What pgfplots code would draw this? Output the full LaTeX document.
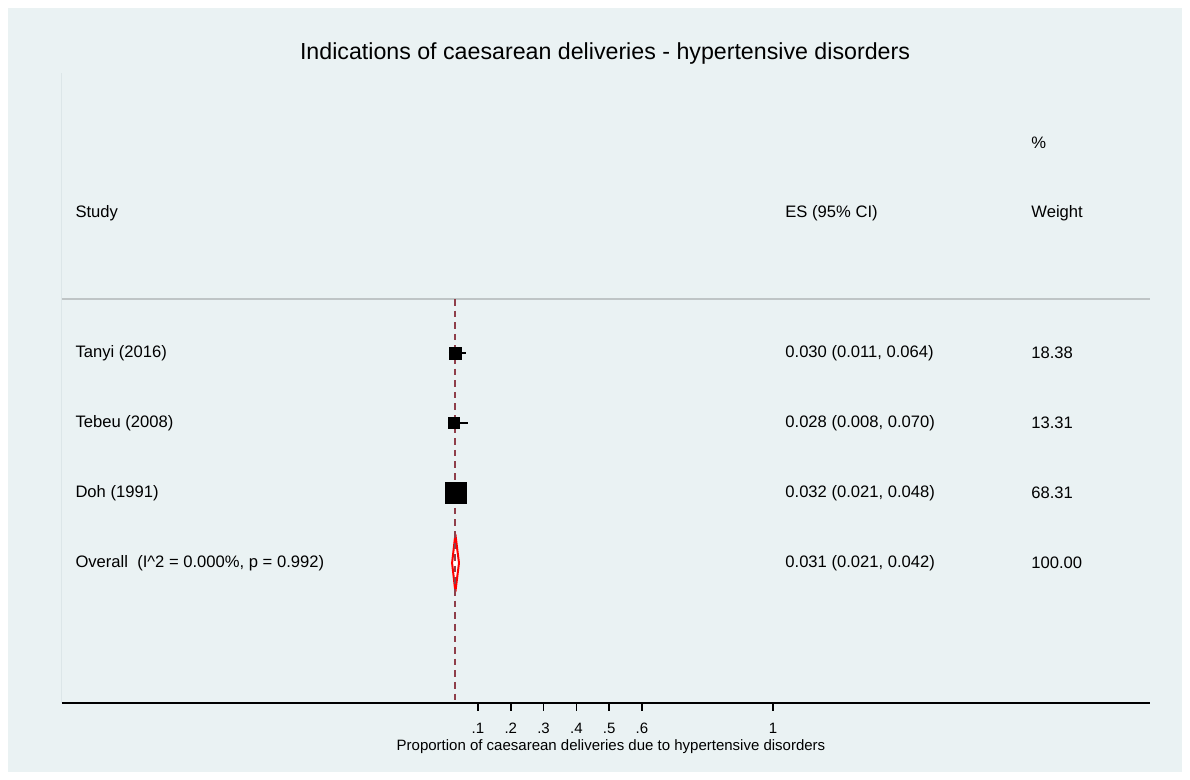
\documentclass[border=0pt]{standalone}
\usepackage{fontspec}
\setmainfont{Liberation Sans}
\usepackage{pgfplots}
\pgfplotsset{compat=1.18}
\definecolor{bgc}{HTML}{EAF2F3}
\definecolor{nullc}{HTML}{8F3F4A}
\definecolor{sepc}{HTML}{BFC5C6}
\definecolor{edgec}{HTML}{DCE6E8}
\newcommand{\rowfont}{\fontsize{8.3}{10}\selectfont}

\begin{document}
\begin{tikzpicture}
\fill[white] (-31pt,-38.5pt) rectangle (564pt,351.5pt);
\fill[bgc] (-27pt,-34.5pt) rectangle (560pt,347.5pt);
\begin{axis}[
  scale only axis, width=544pt, height=315pt,
  xmin=-1.169, xmax=2.150, ymin=-1, ymax=8,
  axis y line=none, axis x line*=bottom,
  x axis line style={-, line width=0.75pt, black},
  xtick={0.1,0.2,0.3,0.4,0.5,0.6,1},
  xticklabels={.1,.2,.3,.4,.5,.6,1},
  xtick align=outside, major tick length=4pt,
  xtick style={line width=0.75pt, black},
  xticklabel style={font=\fontsize{7.5}{9}\selectfont, anchor=base, inner sep=0pt, yshift=-11.5pt},
  /pgf/number format/assume math mode=true,
  clip=false,
]
% faint plot-region edge and separator
\draw[edgec, line width=0.5pt] (axis cs:-1.169,-1) -- (axis cs:-1.169,8);
\draw[sepc, line width=0.6pt] (axis cs:-1.169,4.77) -- (axis cs:2.150,4.77);

% pooled diamond
\addplot[red, fill=white, line width=1pt, line join=round] coordinates {(0.021,1) (0.031,1.41) (0.042,1) (0.031,0.59) (0.021,1)};

% null line at the pooled estimate
\addplot[nullc, dash pattern=on 3.3pt off 2.5pt, line width=0.9pt] coordinates {(0.031,4.77) (0.031,-0.97)};

% confidence intervals
\addplot[black, line width=1pt] coordinates {(0.011,4) (0.064,4)};
\addplot[black, line width=1pt] coordinates {(0.008,3) (0.070,3)};
\addplot[black, line width=1pt] coordinates {(0.021,2) (0.048,2)};

% study estimates, box size by weight
\addplot[only marks, mark=square*, mark size=3pt, black] coordinates {(0.030,4)};
\addplot[only marks, mark=square*, mark size=2.75pt, black] coordinates {(0.028,3)};
\addplot[only marks, mark=square*, mark size=5.25pt, black] coordinates {(0.032,2)};

% header
\node[anchor=west, inner sep=0pt, font=\rowfont] at (axis cs:-1.129,6) {Study};
\node[anchor=west, inner sep=0pt, font=\rowfont] at (axis cs:1.0366,6) {ES (95\% CI)};
\node[anchor=west, inner sep=0pt, font=\rowfont] at (axis cs:1.787,7) {\%};
\node[anchor=west, inner sep=0pt, font=\rowfont] at (axis cs:1.787,6) {Weight};

% rows
\node[anchor=west, inner sep=0pt, font=\rowfont] at (axis cs:-1.129,4) {Tanyi (2016)};
\node[anchor=west, inner sep=0pt, font=\rowfont] at (axis cs:-1.129,3) {Tebeu (2008)};
\node[anchor=west, inner sep=0pt, font=\rowfont] at (axis cs:-1.129,2) {Doh (1991)};
\node[anchor=west, inner sep=0pt, font=\rowfont] at (axis cs:-1.129,1) {Overall\ \ (I\textasciicircum 2 = 0.000\%, p = 0.992)};

\node[anchor=west, inner sep=0pt, font=\rowfont] at (axis cs:1.0366,4) {0.030 (0.011, 0.064)};
\node[anchor=west, inner sep=0pt, font=\rowfont] at (axis cs:1.0366,3) {0.028 (0.008, 0.070)};
\node[anchor=west, inner sep=0pt, font=\rowfont] at (axis cs:1.0366,2) {0.032 (0.021, 0.048)};
\node[anchor=west, inner sep=0pt, font=\rowfont] at (axis cs:1.0366,1) {0.031 (0.021, 0.042)};

\node[anchor=west, inner sep=0pt, font=\rowfont] at (axis cs:1.787,4) {18.38};
\node[anchor=west, inner sep=0pt, font=\rowfont] at (axis cs:1.787,3) {13.31};
\node[anchor=west, inner sep=0pt, font=\rowfont] at (axis cs:1.787,2) {68.31};
\node[anchor=west, inner sep=0pt, font=\rowfont] at (axis cs:1.787,1) {100.00};
\end{axis}
\node[font=\fontsize{11.6}{14}\selectfont] at (271.5pt,324.5pt) {Indications of caesarean deliveries - hypertensive disorders};
\node[anchor=base, inner sep=0pt, font=\fontsize{7.5}{9}\selectfont] at (274.5pt,-24pt) {Proportion of caesarean deliveries due to hypertensive disorders};
\pgfresetboundingbox
\useasboundingbox (-31pt,-38.5pt) rectangle (564pt,351.5pt);
\end{tikzpicture}
\end{document}
